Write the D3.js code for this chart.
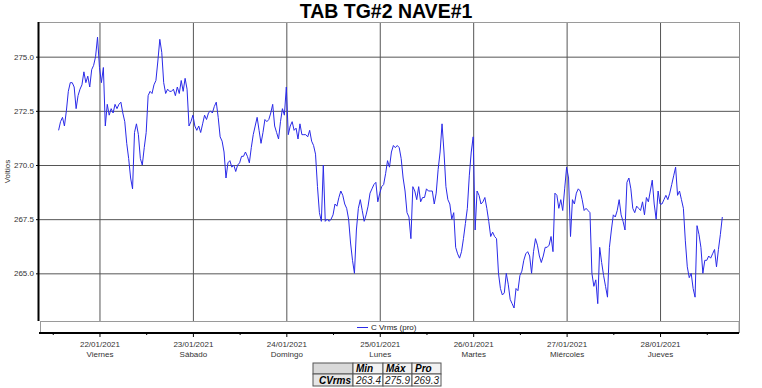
<!DOCTYPE html>
<html>
<head>
<meta charset="utf-8">
<script src="https://cdn.jsdelivr.net/npm/d3@7"></script>
<style>
  body { margin: 0; background: #fff; }
  svg { font-family: "Liberation Sans", Arial, sans-serif; display: block; }
</style>
</head>
<body>
<svg id="chart" width="762" height="388"></svg>
<script>
// samples every 30 min starting 21/01/2021 13:30
const startTime = new Date(2021, 0, 21, 13, 30);
const stepMinutes = 30;
const vrms = [
  271.6,272.0,272.2,271.8,272.5,273.4,273.8,273.8,273.6,272.6,
  273.2,273.5,273.7,274.3,273.8,274.1,273.6,274.4,274.6,275.0,
  275.9,274.5,273.8,274.5,271.8,272.8,272.3,272.6,272.4,272.8,
  272.6,272.8,272.9,272.4,272.0,271.0,270.3,269.4,268.9,271.5,
  271.9,271.4,270.3,270.0,270.8,271.5,273.2,273.4,273.3,273.7,
  273.9,274.8,275.8,275.2,273.8,273.3,273.5,273.4,273.4,273.5,
  273.2,273.6,273.3,273.9,273.4,274.0,273.5,271.8,272.0,272.3,
  271.8,271.6,271.8,271.5,271.9,272.3,272.1,272.4,272.5,272.4,
  272.7,272.9,272.2,271.3,271.1,270.6,269.4,270.1,270.2,269.9,
  270.0,269.7,270.0,270.1,270.4,270.4,270.6,270.4,270.1,270.8,
  271.4,271.8,272.2,271.6,271.0,271.5,272.1,272.0,272.1,272.4,
  272.8,271.8,271.5,271.2,272.0,272.6,272.3,273.6,271.4,271.8,
  272.0,271.6,271.7,271.2,271.9,271.4,271.4,271.4,271.3,271.6,
  271.1,270.9,270.5,269.0,267.8,267.4,270.0,267.4,267.5,267.4,
  267.5,267.7,268.2,268.1,268.5,268.8,268.6,268.2,268.0,267.5,
  266.4,265.6,265.0,267.0,268.0,268.4,267.9,267.4,267.7,268.1,
  268.7,268.9,269.1,269.2,268.3,268.7,269.0,269.1,269.6,270.2,
  269.9,270.6,270.9,270.8,270.9,270.8,270.3,269.4,268.8,267.8,
  267.6,266.6,269.0,268.8,268.4,269.0,268.3,268.5,268.5,268.9,
  268.8,268.8,268.8,268.2,268.7,269.8,270.6,271.9,270.6,269.0,
  268.4,268.2,267.5,267.8,266.2,265.9,265.7,266.0,266.6,267.3,
  268.0,269.5,270.6,271.3,267.0,268.8,268.6,268.2,268.3,268.5,
  268.0,267.4,266.7,266.9,266.7,266.6,265.0,264.3,264.0,264.1,
  265.0,264.5,263.8,263.6,263.4,264.3,264.2,264.9,265.1,265.6,
  265.9,266.0,265.8,265.0,266.0,266.6,266.3,265.8,265.5,265.8,
  266.2,266.2,266.3,266.7,266.0,268.7,268.6,268.0,268.4,267.9,
  268.9,269.9,269.4,266.7,268.4,268.2,268.7,268.9,268.8,268.4,
  267.9,268.0,267.9,267.8,265.0,264.4,264.7,263.6,266.2,265.5,
  264.9,264.4,263.9,266.2,267.0,267.7,267.6,267.9,268.4,267.7,
  267.4,267.0,269.2,269.4,268.9,268.0,267.8,268.1,268.0,267.9,
  268.3,267.7,268.5,268.3,268.8,269.3,268.2,267.5,268.8,268.2,
  268.2,268.4,268.6,268.4,268.7,269.1,269.5,269.9,268.6,268.8,
  268.4,268.0,266.5,265.3,264.8,265.0,264.3,263.9,267.2,266.8,
  266.2,265.0,265.6,265.6,265.8,265.7,265.9,266.1,265.3,266.1,
  266.8,267.6
];

const dayTicks = ["2021-01-22","2021-01-23","2021-01-24","2021-01-25","2021-01-26","2021-01-27","2021-01-28"];
const dayLabels = ["22/01/2021","23/01/2021","24/01/2021","25/01/2021","26/01/2021","27/01/2021","28/01/2021"];
const weekdayLabels = ["Viernes","Sábado","Domingo","Lunes","Martes","Miércoles","Jueves"];
const yTicks = [265, 267.5, 270, 272.5, 275];
const statHeaders = ["Min", "Máx", "Pro"];
const statRow = "CVrms";
const statValues = [263.4, 275.9, 269.3];

let svg = d3.select("#chart");

let plot = { left: 39, right: 739, top: 22, bottom: 321 },
    axisY = 333;

let parseDay = d3.timeParse("%Y-%m-%d");
let tickDates = dayTicks.map(parseDay);

let data = vrms.map((v, i) => ({
  t: new Date(startTime.getTime() + i * stepMinutes * 60000),
  v: v
}));

let x = d3.scaleTime()
  .domain([new Date(2021, 0, 21, 8, 28), new Date(2021, 0, 28, 20, 17)])
  .range([plot.left, plot.right]);

let y = d3.scaleLinear()
  .domain([262.8, 276.6])
  .range([plot.bottom, plot.top]);

// title
svg.append("text")
  .attr("x", 386)
  .attr("y", 18)
  .attr("text-anchor", "middle")
  .style("font-size", "19.5px")
  .style("font-weight", "bold")
  .text("TAB TG#2 NAVE#1");

// horizontal grid
svg.append("g")
  .attr("transform", "translate(" + plot.left + ",0)")
  .call(d3.axisLeft(y).tickValues(yTicks).tickSize(-(plot.right - plot.left)).tickFormat(""))
  .call(g => g.select(".domain").remove())
  .selectAll("line").attr("stroke", "#555");

// vertical grid
svg.append("g")
  .attr("transform", "translate(0," + plot.bottom + ")")
  .call(d3.axisBottom(x).tickValues(tickDates).tickSize(-(plot.bottom - plot.top)).tickFormat(""))
  .call(g => g.select(".domain").remove())
  .selectAll("line").attr("stroke", "#555");

// frame
svg.append("line")
  .attr("x1", plot.left).attr("x2", plot.right)
  .attr("y1", plot.top + 0.5).attr("y2", plot.top + 0.5)
  .attr("stroke", "#9a9a9a");
svg.append("line")
  .attr("x1", plot.right + 0.5).attr("x2", plot.right + 0.5)
  .attr("y1", plot.top).attr("y2", axisY)
  .attr("stroke", "#8a8a8a");
svg.append("rect")
  .attr("x", plot.left + 1.5).attr("y", plot.bottom + 0.5)
  .attr("width", plot.right - plot.left - 1.5).attr("height", axisY - plot.bottom - 1)
  .attr("fill", "none")
  .attr("stroke", "#9a9a9a");

// the series
let line = d3.line()
  .x(d => x(d.t))
  .y(d => y(d.v));

svg.append("path")
  .datum(data)
  .attr("fill", "none")
  .attr("stroke", "#2a2ae8")
  .attr("stroke-width", 1)
  .attr("stroke-linejoin", "round")
  .attr("d", line);

// y axis
let yAxis = svg.append("g")
  .attr("transform", "translate(" + plot.left + ",0)")
  .call(d3.axisLeft(y).tickValues(yTicks).tickSize(3).tickPadding(2).tickFormat(d3.format(".1f")));
yAxis.select(".domain").remove();
yAxis.selectAll("text").style("font-size", "8px").attr("fill", "#333");
svg.append("line")
  .attr("x1", plot.left - 0.5).attr("x2", plot.left - 0.5)
  .attr("y1", plot.top).attr("y2", plot.bottom)
  .attr("stroke", "#000").attr("stroke-width", 2);

svg.append("text")
  .attr("transform", "translate(10," + ((plot.top + plot.bottom) / 2) + ") rotate(-90)")
  .attr("text-anchor", "middle")
  .style("font-size", "8px")
  .attr("fill", "#333")
  .text("Voltios");

// x axis
let halfDays = tickDates.map(d => d3.timeHour.offset(d, -12)).concat(d3.timeHour.offset(tickDates[tickDates.length - 1], 12));
svg.append("g")
  .attr("transform", "translate(0," + axisY + ")")
  .call(d3.axisBottom(x).tickValues(halfDays).tickSize(2).tickFormat(""))
  .call(g => g.select(".domain").remove());

let xAxis = svg.append("g")
  .attr("transform", "translate(0," + axisY + ")")
  .call(d3.axisBottom(x).tickValues(tickDates).tickSize(4).tickPadding(4)
    .tickFormat((d, i) => dayLabels[i]));
xAxis.select(".domain").remove();
xAxis.selectAll("text")
  .style("font-size", "8px")
  .attr("fill", "#333")
  .each(function(d, i) {
    d3.select(this).append("tspan")
      .attr("x", 0)
      .attr("dy", "1.35em")
      .text(weekdayLabels[i]);
  });

svg.append("line")
  .attr("x1", plot.left).attr("x2", plot.right)
  .attr("y1", axisY).attr("y2", axisY)
  .attr("stroke", "#000").attr("stroke-width", 2);

// legend
let legend = svg.append("g")
  .attr("transform", "translate(357," + (plot.bottom + 6.5) + ")");
legend.append("line")
  .attr("x1", 0).attr("x2", 11)
  .attr("stroke", "#2a2ae8");
legend.append("text")
  .attr("x", 14)
  .attr("dy", "0.35em")
  .style("font-size", "8px")
  .attr("fill", "#222")
  .text("C Vrms (pro)");

// stats table
let table = svg.append("g").attr("transform", "translate(313,363)");
let colX = [0, 40, 70, 99, 128],
    rowY = [0, 11, 23];

table.append("rect")
  .attr("x", colX[0]).attr("y", rowY[0])
  .attr("width", colX[1] - colX[0]).attr("height", rowY[1] - rowY[0])
  .attr("fill", "#d9d9d9").attr("stroke", "#555");
statHeaders.forEach((h, i) => {
  table.append("rect")
    .attr("x", colX[i + 1]).attr("y", rowY[0])
    .attr("width", colX[i + 2] - colX[i + 1]).attr("height", rowY[1] - rowY[0])
    .attr("fill", "#f2f2f2").attr("stroke", "#555");
  table.append("text")
    .attr("x", colX[i + 1] + 3).attr("y", rowY[1] - 2)
    .style("font-size", "10px").style("font-weight", "bold").style("font-style", "italic")
    .text(h);
});
table.append("rect")
  .attr("x", colX[0]).attr("y", rowY[1])
  .attr("width", colX[1] - colX[0]).attr("height", rowY[2] - rowY[1])
  .attr("fill", "#e6e6e6").attr("stroke", "#555");
table.append("text")
  .attr("x", colX[1] - 2).attr("y", rowY[2] - 2.5)
  .attr("text-anchor", "end")
  .style("font-size", "10px").style("font-weight", "bold").style("font-style", "italic")
  .text(statRow);
statValues.forEach((v, i) => {
  table.append("rect")
    .attr("x", colX[i + 1]).attr("y", rowY[1])
    .attr("width", colX[i + 2] - colX[i + 1]).attr("height", rowY[2] - rowY[1])
    .attr("fill", "#fff").attr("stroke", "#555");
  table.append("text")
    .attr("x", colX[i + 2] - 2).attr("y", rowY[2] - 2.5)
    .attr("text-anchor", "end")
    .style("font-size", "10px").style("font-style", "italic")
    .attr("fill", "#222")
    .text(d3.format(".1f")(v));
});
</script>
</body>
</html>
